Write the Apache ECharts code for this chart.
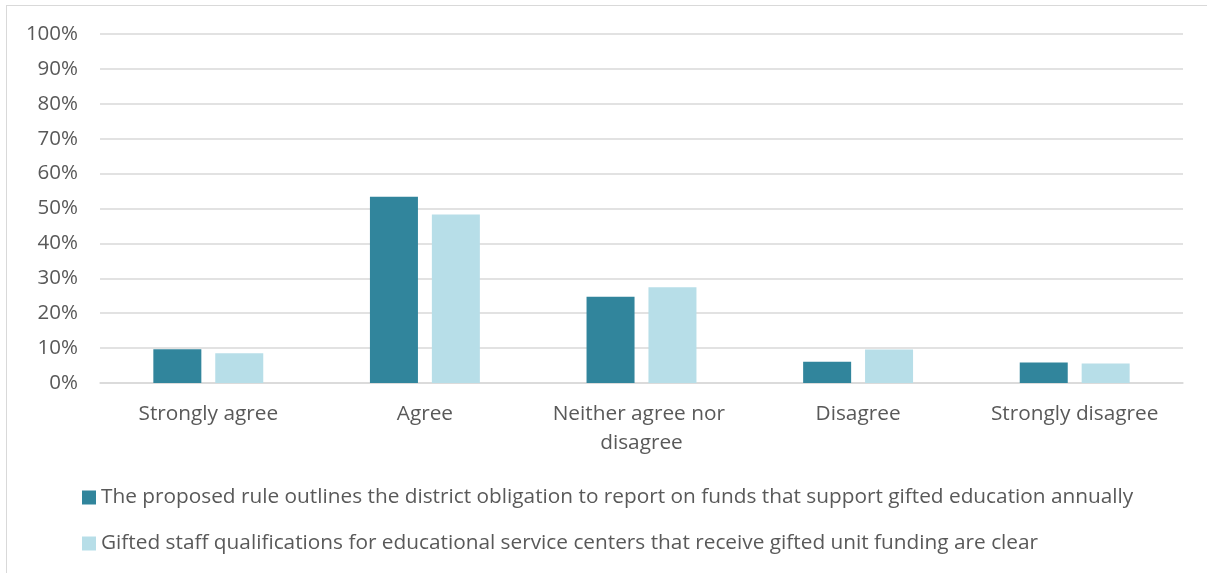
<!DOCTYPE html>
<html>
<head>
<meta charset="utf-8">
<script src="https://cdn.jsdelivr.net/npm/echarts@6/dist/echarts.min.js"></script>
<style>
  html, body { margin: 0; padding: 0; background: #fff; }
  #frame { position: absolute; left: 6px; top: 5px; width: 1220px; height: 620px; border: 1px solid #d9d9d9; box-sizing: border-box; }
  #chart { position: absolute; left: 0; top: 0; width: 1207px; height: 573px; }
</style>
</head>
<body>
<div id="frame"></div>
<div id="chart"></div>
<script>
// Survey responses (percent of respondents)
const categories = ['Strongly agree', 'Agree', 'Neither agree nor disagree', 'Disagree', 'Strongly disagree'];
const seriesNames = [
  'The proposed rule outlines the district obligation to report on funds that support gifted education annually',
  'Gifted staff qualifications for educational service centers that receive gifted unit funding are clear'
];
const reportFunds = [9.7, 53.4, 24.7, 6.1, 5.9];
const staffQualifications = [8.5, 48.3, 27.4, 9.6, 5.6];
const yTicks = [0, 10, 20, 30, 40, 50, 60, 70, 80, 90, 100];

const font = '"Open Sans", sans-serif';
const textColor = '#595959';

const chart = echarts.init(document.getElementById('chart'), null, { renderer: 'canvas' });
chart.setOption({
  animation: false,
  backgroundColor: 'transparent',
  grid: { left: 100, right: 24, top: 34, bottom: 190, containLabel: false },
  legend: {
    orient: 'vertical',
    left: 77,
    top: 482,
    itemWidth: 14,
    itemHeight: 14,
    itemGap: 25,
    icon: 'rect',
    textStyle: { fontFamily: font, fontSize: 20.8, color: textColor, lineHeight: 20 },
    data: seriesNames
  },
  xAxis: {
    type: 'category',
    data: categories,
    axisLine: { lineStyle: { color: '#d9d9d9', width: 1.5 } },
    axisTick: { show: false },
    axisLabel: {
      interval: 0,
      margin: 17,
      fontFamily: font,
      fontSize: 20.8,
      color: textColor,
      lineHeight: 29,
      width: 200,
      overflow: 'break'
    }
  },
  yAxis: {
    type: 'value',
    min: yTicks[0],
    max: yTicks[yTicks.length - 1],
    interval: 10,
    axisLine: { show: false },
    axisTick: { show: false },
    splitLine: { lineStyle: { color: '#d9d9d9', width: 1.5 } },
    axisLabel: {
      margin: 22,
      fontFamily: font,
      fontSize: 20.5,
      color: textColor,
      formatter: v => v + '%'
    }
  },
  series: [
    {
      name: seriesNames[0],
      type: 'bar',
      data: reportFunds,
      barWidth: 48,
      barGap: '29%',
      itemStyle: { color: '#31859c' }
    },
    {
      name: seriesNames[1],
      type: 'bar',
      data: staffQualifications,
      barWidth: 48,
      itemStyle: { color: '#b7dee8' }
    }
  ]
});
</script>
</body>
</html>
